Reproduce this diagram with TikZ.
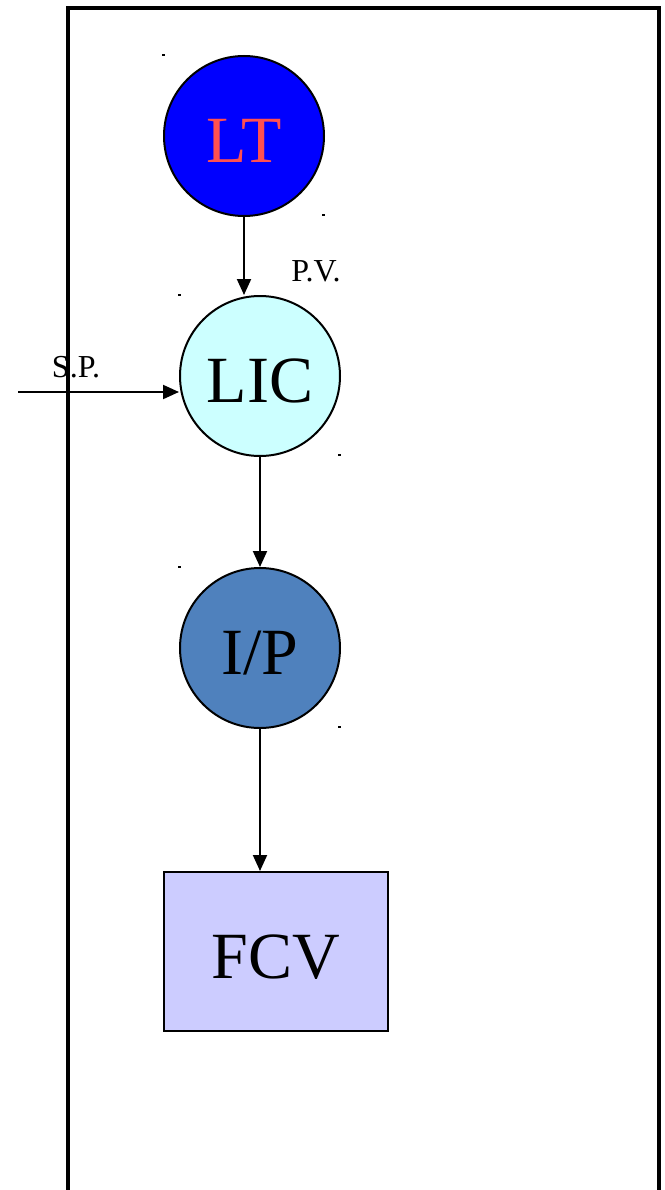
\documentclass[tikz,border=0pt]{standalone}
\usepackage{fontspec}
\setmainfont{Liberation Serif}
\usetikzlibrary{arrows.meta}
\definecolor{ltblue}{RGB}{0,0,255}
\definecolor{ltred}{RGB}{255,80,80}
\definecolor{liccyan}{RGB}{204,255,255}
\definecolor{ipblue}{RGB}{79,129,189}
\definecolor{fcvlav}{RGB}{204,204,255}
\tikzset{
  instr/.style={circle, draw=black, line width=2pt, minimum size=160pt, inner sep=0pt,
    font=\fontsize{66}{66}\selectfont, text height=53pt, text depth=0pt},
  valvebox/.style={rectangle, draw=black, line width=2pt, minimum width=224pt, minimum height=159pt,
    inner sep=0pt, font=\fontsize{66}{66}\selectfont, text height=53pt, text depth=0pt},
  sig/.style={line width=2pt, -{Triangle[length=16pt,width=14pt]}},
  lbl/.style={font=\fontsize{32}{32}\selectfont, inner sep=0pt},
  tick/.style={fill=black}
}
\begin{document}
\begin{tikzpicture}[x=1pt,y=-1pt]
\useasboundingbox (0,0) rectangle (664,1190);
\fill[white] (0,0) rectangle (664,1190);
\draw[line width=4.5pt] (68,8) rectangle (659,1192);
% nodes
\node[instr, fill=ltblue, text=ltred] (lt) at (244,136) {LT};
\node[instr, fill=liccyan] (lic) at (260,376) {LIC};
\node[instr, fill=ipblue] (ip) at (260,648) {I/P};
\node[valvebox, fill=fcvlav] (fcv) at (276,951.5) {FCV};
\coordinate (spin) at (18,392);
% labels
\node[lbl] (sp) at (76,367) {S.P.};
\node[lbl] (pv) at (316,271) {P.V.};
% connectors
\draw[sig] (lt.south) -- (lt.south |- lic.north);
\draw[sig] (lic.south) -- (ip.north);
\draw[sig] (ip.south) -- (fcv.north -| ip.south);
\draw[sig] (spin) -- (spin -| lic.west);
% corner ticks
\foreach \p in {(163,55),(323,215),(179,295),(339,455),(179,567),(339,727)}
  \fill[tick] \p ++(-1.5,-1) rectangle ++(3,2);
\end{tikzpicture}
\end{document}
